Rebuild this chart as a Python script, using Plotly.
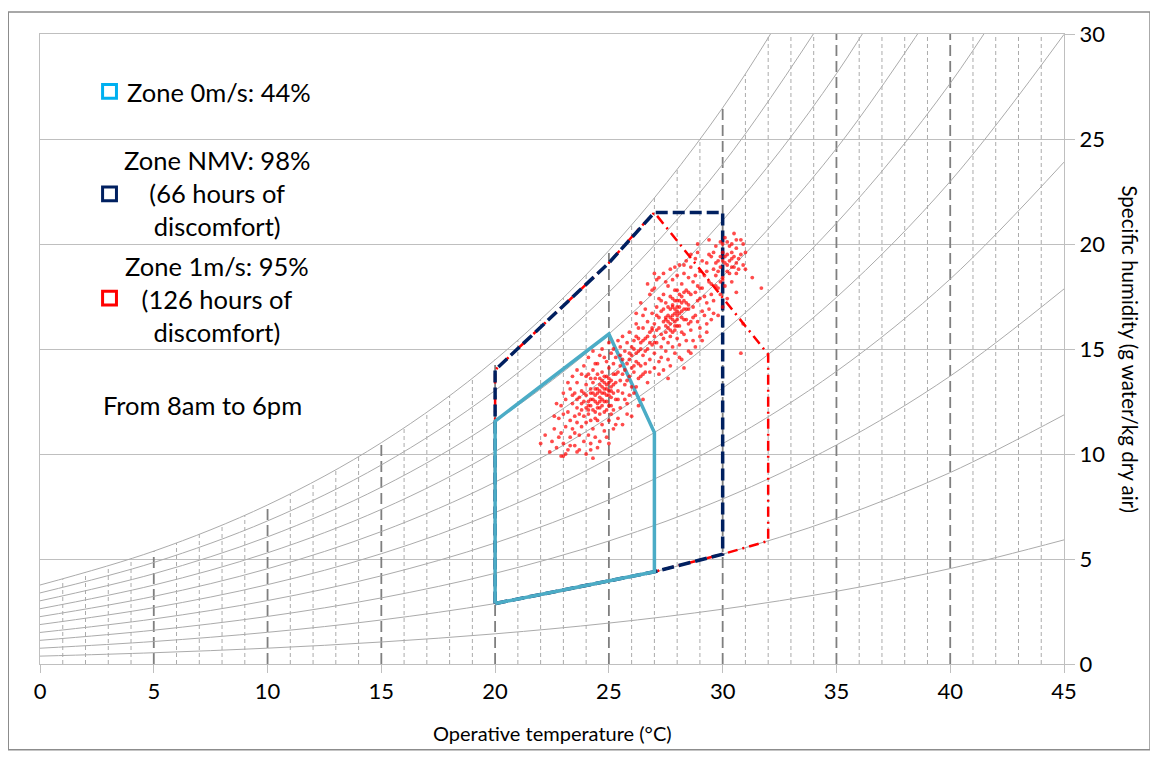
"""
Psychrometric comfort chart: comfort zones and measured conditions (8am-6pm).
"""
import plotly.graph_objects as go

# Relative humidity curves (10 % .. 100 %), specific humidity read at every 5 degC
curve_temps = [0, 5, 10, 15, 20, 25, 30, 35, 40, 45]
rh10 = [0.375, 0.536, 0.754, 1.048, 1.437, 1.948, 2.611, 3.462, 4.545, 5.910]
rh20 = [0.751, 1.072, 1.509, 2.097, 2.877, 3.900, 5.230, 6.939, 9.116, 11.863]
rh30 = [1.127, 1.609, 2.265, 3.147, 4.319, 5.857, 7.857, 10.430, 13.711, 17.859]
rh40 = [1.502, 2.145, 3.021, 4.199, 5.764, 7.819, 10.493, 13.936, 18.332, 23.899]
rh50 = [1.878, 2.683, 3.779, 5.252, 7.211, 9.785, 13.137, 17.458, 22.980, 29.982]
rh60 = [2.255, 3.220, 4.536, 6.306, 8.661, 11.757, 15.790, 20.994, 27.653, 36.110]
rh70 = [2.631, 3.758, 5.295, 7.362, 10.113, 13.732, 18.451, 24.545, 32.353]
rh80 = [3.008, 4.297, 6.054, 8.419, 11.568, 15.713, 21.121, 28.111, 37.080]
rh90 = [3.384, 4.835, 6.814, 9.478, 13.026, 17.698, 23.799, 31.693]
rh100 = [3.761, 5.374, 7.574, 10.538, 14.486, 19.688, 26.486, 35.289]
rh_curves = [rh10, rh20, rh30, rh40, rh50, rh60, rh70, rh80, rh90, rh100]

# Dry-bulb guide lines, each drawn from 0 up to the saturation curve
guide_temps = list(range(1, 45))
guide_tops = [4.04, 4.35, 4.67, 5.01, 5.37, 5.76, 6.18, 6.61, 7.08, 7.57,
              8.10, 8.66, 9.25, 9.87, 10.54, 11.24, 11.99, 12.77, 13.61, 14.49,
              15.42, 16.40, 17.44, 18.53, 19.69, 20.91, 22.19, 23.55, 24.98, 26.49,
              28.07, 30, 30, 30, 30, 30, 30, 30, 30, 30,
              30, 30, 30, 30]

# Comfort zones
zone0_t = [20, 20, 25, 27, 27, 20]
zone0_w = [2.88, 11.57, 15.71, 11.02, 4.39, 2.88]
nmv_t = [20, 20, 25, 26.3, 27, 30, 30, 27, 20]
nmv_w = [2.88, 14.0, 19.1, 20.7, 21.5, 21.5, 5.23, 4.39, 2.88]
zone1_t = [20, 20, 25, 26.3, 27, 32, 32, 30, 27, 20]
zone1_w = [2.88, 14.0, 19.1, 20.7, 21.5, 14.74, 5.86, 5.23, 4.39, 2.88]

# Measured hourly conditions (operative temperature, specific humidity)
low_t = [22.4, 22.5, 22.6, 22.7, 22.8, 22.8, 22.9, 22.9, 23.0, 23.0, 23.1, 23.1, 23.2, 23.2,
         23.3, 23.3, 23.3, 23.4, 23.4, 23.5, 23.5, 23.5, 23.6, 23.6, 23.6, 23.7, 23.7, 23.7,
         23.8, 23.8, 23.8, 23.9, 23.9, 23.9, 24.0, 24.0, 24.0, 24.0, 24.1, 24.1, 24.1, 24.1,
         24.2, 24.2, 24.2, 24.2, 24.3, 24.3, 24.3, 24.3, 24.4, 24.4, 24.4, 24.4, 24.5, 24.5,
         24.5, 24.5, 24.6, 24.6, 24.6, 24.6, 24.7, 24.7, 24.7, 24.7, 24.8, 24.8, 24.8, 24.8,
         24.9, 24.9, 24.9, 24.9, 25.0, 25.0, 25.0, 25.0, 25.1, 25.1, 25.1, 25.1, 25.2, 25.2,
         25.2, 25.2, 25.3, 25.3, 25.3, 25.4, 25.4, 25.4, 25.5, 25.5, 25.5, 25.6, 25.6, 25.6,
         25.7, 25.7, 25.8, 25.8, 25.8, 25.9, 25.9, 26.0, 26.0, 26.1, 26.2, 26.3,
         22.2, 23.0, 24.2, 23.6]
low_w = [10.1, 10.6, 11.2, 10.3, 11.7, 10.8, 12.3, 11.0, 10.5, 11.9, 12.6, 11.3, 10.2, 12.0,
         11.6, 13.1, 10.8, 12.4, 11.2, 12.9, 11.8, 10.4, 12.2, 11.5, 13.4, 10.9, 12.7, 11.9,
         12.1, 13.0, 11.3, 12.5, 10.6, 11.8, 13.3, 12.2, 11.5, 12.8, 13.8, 11.9, 12.5, 10.9,
         13.1, 12.3, 11.6, 12.9, 14.0, 12.6, 11.2, 13.4, 12.0, 12.8, 13.6, 11.7, 13.1, 12.4,
         14.3, 10.3, 12.7, 13.3, 11.9, 12.2, 13.9, 12.9, 11.4, 13.5, 12.5, 14.6, 13.1, 12.0,
         13.7, 12.8, 10.8, 13.3, 12.3, 14.1, 13.0, 11.6, 13.5, 12.7, 14.8, 13.2, 12.1, 13.8,
         14.3, 12.9, 13.4, 11.4, 14.6, 13.0, 13.9, 12.6, 14.2, 13.5, 15.1, 12.9, 13.8, 14.5,
         13.3, 14.0, 15.3, 12.4, 14.3, 13.7, 14.8, 14.1, 13.2, 15.0, 14.4, 13.6,
         10.9, 9.9, 10.2, 10.1]

low2_t = [22.6, 22.7, 22.9, 23.0, 23.1, 23.2, 23.3, 23.4, 23.4, 23.5, 23.6, 23.6, 23.7, 23.8,
          23.8, 23.9, 23.9, 24.0, 24.0, 24.1, 24.1, 24.2, 24.2, 24.3, 24.3, 24.4, 24.4, 24.5,
          24.5, 24.6, 24.6, 24.7, 24.7, 24.8, 24.8, 24.9, 24.9, 25.0, 25.0, 25.0, 25.1, 25.1,
          25.2, 25.2, 25.3, 25.3, 25.4, 25.4, 25.5, 25.5, 25.6, 25.6, 25.7, 25.7, 25.8, 25.8,
          25.9, 25.9, 26.0, 26.0, 26.1, 26.1, 26.2, 26.2, 26.3, 26.3, 26.4, 26.5, 26.5, 26.6,
          24.5, 24.6, 24.7, 24.8, 24.6, 24.9, 24.4, 25.0, 24.3, 24.8, 24.5, 25.1, 24.2, 24.7,
          24.9, 24.4, 25.2, 24.6, 24.1, 25.0]
low2_w = [11.8, 12.4, 9.9, 12.9, 10.0, 13.4, 10.4, 13.7, 12.8, 11.0, 12.6, 14.0, 10.2, 13.8,
          12.4, 14.2, 12.9, 10.0, 13.7, 14.6, 12.1, 13.6, 10.5, 12.1, 14.9, 10.8, 14.3, 11.6,
          13.8, 10.6, 14.7, 12.3, 15.0, 11.1, 13.7, 12.1, 14.4, 10.5, 13.6, 15.3, 11.9, 12.3,
          11.2, 15.0, 12.6, 13.8, 11.7, 15.4, 12.2, 14.7, 11.4, 15.6, 12.6, 14.9, 11.9, 13.5,
          15.8, 12.8, 11.8, 15.1, 12.9, 14.2, 16.2, 13.2, 12.3, 15.5, 13.7, 12.6, 16.6, 14.3,
          12.9, 13.0, 12.6, 12.9, 12.5, 13.1, 12.5, 12.8, 12.9, 13.4, 12.2, 13.0, 12.6, 13.2,
          12.5, 13.1, 13.3, 13.6, 12.3, 13.4]

mid_t = [26.2, 26.3, 26.4, 26.4, 26.5, 26.5, 26.6, 26.6, 26.7, 26.7, 26.8, 26.8, 26.9, 26.9,
         27.0, 27.0, 27.0, 27.1, 27.1, 27.1, 27.2, 27.2, 27.2, 27.2, 27.3, 27.3, 27.3, 27.4,
         27.4, 27.4, 27.4, 27.5, 27.5, 27.5, 27.5, 27.6, 27.6, 27.6, 27.6, 27.7, 27.7, 27.7,
         27.7, 27.8, 27.8, 27.8, 27.8, 27.9, 27.9, 27.9, 27.9, 28.0, 28.0, 28.0, 28.0, 28.1,
         28.1, 28.1, 28.1, 28.2, 28.2, 28.2, 28.3, 28.3, 28.3, 28.4, 28.4, 28.4, 28.5, 28.5,
         28.5, 28.6, 28.6, 28.6, 28.7, 28.7, 28.8, 28.8, 28.8, 28.9, 28.9, 29.0, 29.0, 29.1,
         29.1, 29.2, 29.3, 29.3, 29.4, 29.5,
         26.4, 26.7, 27.0, 26.9, 27.2, 26.2, 28.6, 29.0, 29.3, 28.3, 29.6, 29.8, 30.0]
mid_w = [15.6, 14.9, 15.3, 14.2, 16.0, 14.7, 15.5, 13.9, 16.3, 15.0, 14.5, 15.8, 16.7, 15.2,
         15.6, 16.2, 14.8, 17.0, 15.9, 15.3, 16.5, 14.4, 17.4, 16.0, 15.7, 16.8, 15.1, 17.6,
         16.3, 15.5, 16.9, 14.9, 17.2, 16.1, 15.8, 16.6, 18.0, 15.3, 17.0, 16.2, 16.9, 15.6,
         17.5, 16.4, 18.3, 15.1, 17.1, 16.7, 15.9, 17.8, 16.3, 17.3, 15.5, 16.6, 18.5, 16.1,
         17.0, 14.6, 17.6, 16.8, 18.1, 15.8, 17.3, 16.4, 19.0, 17.8, 15.4, 16.9, 18.4, 17.1,
         16.2, 17.6, 18.9, 15.9, 17.0, 18.2, 16.6, 17.7, 19.3, 18.0, 16.3, 17.4, 18.7, 17.9,
         16.8, 18.5, 17.2, 19.1, 18.2, 17.6,
         17.2, 18.1, 18.6, 17.8, 18.4, 16.7, 14.8, 15.6, 16.2, 14.1, 16.7, 17.9, 18.3]

mid2_t = [26.6, 26.7, 26.8, 26.8, 26.9, 27.0, 27.0, 27.1, 27.1, 27.2, 27.3, 27.3, 27.4, 27.4,
          27.5, 27.5, 27.6, 27.6, 27.7, 27.7, 27.8, 27.8, 27.9, 27.9, 28.0, 28.0, 28.1, 28.1,
          28.2, 28.2, 28.3, 28.3, 28.4, 28.4, 28.5, 28.5, 28.6, 28.6, 28.7, 28.7, 28.8, 28.8,
          28.9, 28.9, 29.0, 29.0, 29.1, 29.1, 29.2, 29.2, 29.3, 29.3, 29.4, 29.4, 29.5, 29.5,
          29.6, 29.7, 29.8, 29.9, 30.0, 30.1, 30.2, 30.4, 30.6,
          27.8, 27.9, 28.0, 28.1, 27.7, 28.2, 28.0, 27.9, 28.3, 27.6, 28.1, 27.8, 28.4, 28.0,
          27.7, 28.2, 28.5, 27.5, 28.3, 27.9,
          25.9, 26.0, 26.1, 26.2, 26.3, 26.4, 26.5, 26.6, 26.7, 26.8, 26.1, 26.9, 27.0, 26.5,
          26.3]
mid2_w = [16.9, 13.4, 17.6, 13.9, 16.0, 17.9, 14.1, 16.6, 18.3, 13.8, 17.3, 14.6, 18.6, 14.0,
          16.5, 18.2, 14.5, 16.0, 18.8, 14.2, 15.8, 17.4, 18.9, 14.8, 16.1, 17.8, 19.0, 15.2,
          17.2, 14.5, 18.6, 15.7, 16.4, 19.2, 14.9, 17.7, 16.3, 19.5, 15.4, 16.5, 18.5, 15.1,
          17.3, 19.6, 16.0, 17.9, 15.4, 19.2, 16.6, 17.5, 18.7, 15.8, 16.9, 19.5, 18.1, 16.4,
          17.3, 18.0, 16.6, 17.6, 17.0, 18.0, 17.4, 18.2, 17.7,
          16.6, 16.9, 16.4, 16.7, 16.5, 16.5, 17.0, 16.1, 16.9, 16.3, 17.3, 17.0, 17.2, 16.8,
          15.9, 17.5, 16.9, 16.4, 17.7, 17.3,
          14.5, 14.7, 15.4, 14.8, 14.3, 15.0, 15.4, 14.9, 15.6, 15.3, 13.9, 15.9, 15.3, 13.8,
          16.0]

top_t = [29.5, 29.6, 29.7, 29.7, 29.8, 29.9, 29.9, 30.0, 30.0, 30.1, 30.1, 30.2, 30.2, 30.3,
         30.3, 30.4, 30.4, 30.5, 30.6, 30.6, 30.7, 30.8, 30.9, 31.0, 29.4, 30.5,
         29.6, 29.8, 29.9, 30.0, 30.1, 30.2, 30.3, 30.4, 30.5, 30.6, 30.7, 30.8, 30.9, 31.0,
         30.2, 30.0, 29.7, 30.4, 30.6, 29.9,
         31.7, 30.9, 30.8, 22.0, 24.3, 27.6, 31.3, 28.9]
top_w = [19.4, 18.8, 19.9, 18.5, 19.2, 20.1, 18.9, 19.6, 18.4, 19.1, 20.3, 19.5, 18.7, 19.9,
         19.2, 18.9, 20.0, 19.4, 18.6, 19.8, 19.3, 20.2, 19.0, 19.6, 20.2, 20.5,
         19.6, 18.7, 19.4, 20.0, 19.4, 20.1, 18.6, 19.6, 18.9, 20.2, 18.8, 19.5, 20.0, 18.8,
         19.0, 19.2, 19.1, 19.3, 19.1, 18.2,
         17.9, 16.2, 14.8, 10.5, 9.8, 13.6, 18.4, 20.0]

x_ticks = [0, 5, 10, 15, 20, 25, 30, 35, 40, 45]
y_ticks = [0, 5, 10, 15, 20, 25, 30]

FONT = "Lato, 'Open Sans', sans-serif"
GRID = "#BFBFBF"


def add_guides(fig: go.Figure) -> None:
    """Thin dashed lines every degree, heavier ones every 5 degrees."""
    for bold in (False, True):
        xs, ys = [], []
        for t, top in zip(guide_temps, guide_tops):
            if (t % 5 == 0) != bold:
                continue
            xs += [t, t, None]
            ys += [0, top, None]
        fig.add_trace(go.Scatter(
            x=xs, y=ys, mode="lines", hoverinfo="skip",
            line=dict(color="#7F7F7F" if bold else "#ABABAB",
                      width=1.8 if bold else 1,
                      dash="11px,5px" if bold else "4px,3px")))

    for values in rh_curves:
        fig.add_trace(go.Scatter(
            x=curve_temps[:len(values)], y=values, mode="lines",
            line=dict(color="#ABABAB", width=1, shape="spline"), hoverinfo="skip"))


def add_zones(fig: go.Figure) -> None:
    """Comfort zone outlines."""
    fig.add_trace(go.Scatter(x=zone1_t, y=zone1_w, mode="lines",
                             line=dict(color="#FF0000", width=2.5, dash="10px,5px,2px,5px")))
    fig.add_trace(go.Scatter(x=nmv_t, y=nmv_w, mode="lines",
                             line=dict(color="#002060", width=3.5, dash="12px,5px")))
    fig.add_trace(go.Scatter(x=zone0_t, y=zone0_w, mode="lines",
                             line=dict(color="#4BACC6", width=3.5)))


def create_chart() -> go.Figure:
    fig = go.Figure()
    add_guides(fig)
    add_zones(fig)

    hours_t = low_t + low2_t + mid_t + mid2_t + top_t
    hours_w = low_w + low2_w + mid_w + mid2_w + top_w
    fig.add_trace(go.Scatter(
        x=hours_t, y=hours_w, mode="markers",
        marker=dict(color="rgba(255,0,0,0.7)", size=3.8, line=dict(width=0))))

    # legend boxes and notes
    boxes = [("#00B0F0", 27.27), ("#002060", 22.39), ("#FF0000", 17.42)]
    for color, yc in boxes:
        fig.add_shape(type="rect", xref="x", yref="y", x0=2.75, x1=3.36,
                      y0=yc - 0.33, y1=yc + 0.33, line=dict(color=color, width=3))

    notes = [
        ("Zone 0m/s: 44%", 3.74, 27.25, "left"),
        ("Zone NMV: 98%<br>(66 hours of<br>discomfort)", 7.78, 22.42, "center"),
        ("Zone 1m/s: 95%<br>(126 hours of<br>discomfort)", 7.78, 17.39, "center"),
        ("From 8am to 6pm", 7.14, 12.32, "center"),
    ]
    for text, x, y, anchor in notes:
        fig.add_annotation(text=text, x=x, y=y, xref="x", yref="y", showarrow=False,
                           xanchor=anchor, yanchor="middle", align="center",
                           font=dict(family=FONT, size=25.5, color="#000000"))

    fig.add_annotation(text="Operative temperature (°C)", xref="paper", yref="paper",
                       x=0.5, y=-0.109, showarrow=False, yanchor="middle",
                       font=dict(family=FONT, size=20, color="#000000"))
    fig.add_annotation(text="Specific humidity (g water/kg dry air)", xref="paper",
                       yref="paper", x=1.064, y=0.5, showarrow=False, textangle=90,
                       xanchor="center", yanchor="middle",
                       font=dict(family=FONT, size=20.5, color="#000000"))

    # outer frame
    fig.add_shape(type="rect", xref="paper", yref="paper", x0=-0.031, x1=1.084,
                  y0=-0.136, y1=1.035, line=dict(color="#8C8C8C", width=1.5))

    fig.update_layout(
        width=1150, height=750, showlegend=False,
        margin=dict(l=32, r=94, t=23, b=94),
        plot_bgcolor="white", paper_bgcolor="white",
        font=dict(family=FONT, size=22, color="#000000"),
    )
    fig.update_xaxes(range=[0, 45], tickvals=x_ticks, showgrid=False, zeroline=False,
                     showline=True, linecolor=GRID, linewidth=1, mirror=True,
                     ticks="outside", ticklen=8, tickcolor=GRID)
    fig.update_yaxes(range=[0, 30], tickvals=y_ticks, side="right", showgrid=True,
                     gridcolor=GRID, gridwidth=1, zeroline=False, showline=True,
                     linecolor=GRID, linewidth=1, mirror=True,
                     ticks="outside", ticklen=10, tickcolor=GRID)
    return fig


fig = create_chart()
fig.write_html("out.html")
